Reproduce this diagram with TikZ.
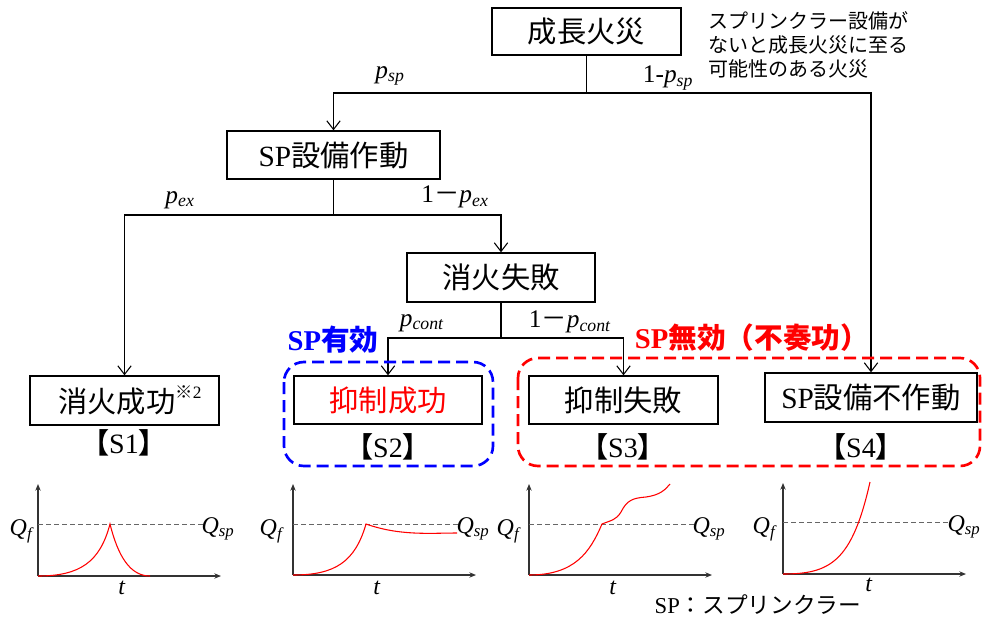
\documentclass[tikz,border=0pt]{standalone}
\usepackage{fontspec}
\setmainfont{Liberation Serif}
\newfontfamily\jp{Noto Sans CJK JP}
\usetikzlibrary{arrows.meta}
\begin{document}
\begin{tikzpicture}[x=0.75pt,y=-0.75pt,
  box/.style={draw, line width=1pt, inner sep=0pt, font=\fontsize{22}{26}\selectfont},
  conn/.style={line width=0.8pt},
  arr/.style={conn, -{Straight Barb[length=6.5pt,width=10pt]}},
  prob/.style={inner sep=0pt, font=\fontsize{19}{22}\selectfont},
  slabel/.style={inner sep=0pt, font=\fontsize{21}{24}\selectfont},
  group/.style={dashed, line width=2pt, dash pattern=on 9pt off 4.5pt, rounded corners=15pt},
  axis/.style={line width=0.8pt, draw=black!80, -{Stealth[length=5pt,width=4pt]}},
  qline/.style={dashed, draw=black!60, line width=0.6pt, dash pattern=on 3.5pt off 2.5pt},
  curve/.style={red, line width=0.8pt},
  glabel/.style={inner sep=0pt, font=\fontsize{18}{21}\selectfont}
]
\useasboundingbox (0,0) rectangle (984,621);

% boxes
\node[box, minimum width=141.75pt, minimum height=35.25pt] (top) at (586.5,31.5) {\jp 成長火災};
\node[box, minimum width=159.75pt, minimum height=36pt] (sp) at (333.5,155) {SP{\jp 設備作動}};
\node[box, minimum width=141pt, minimum height=36.75pt] (fail) at (501,277.5) {\jp 消火失敗};
\node[box, minimum width=141.75pt, minimum height=36.75pt] (s1) at (124.5,400.5) {\hspace*{8pt}{\jp 消火成功}\raisebox{0.5em}{\fontsize{13}{15}\selectfont{\jp ※}2}};
\node[box, minimum width=141pt, minimum height=36pt, text=red] (s2) at (388,400) {\jp 抑制成功};
\node[box, minimum width=141.75pt, minimum height=36pt] (s3) at (623.5,400) {\jp 抑制失敗};
\node[box, minimum width=159pt, minimum height=36.75pt] (s4) at (871,397.5) {SP{\jp 設備不作動}};

% note
\node[anchor=north west, align=left, inner sep=0pt, font=\fontsize{15}{18}\selectfont] (note) at (708,11) {\jp スプリンクラー設備が\\\jp ないと成長火災に至る\\\jp 可能性のある火災};

% connectors
\coordinate (j1) at (586.5,93);
\coordinate (j2) at (333.5,215);
\coordinate (j3) at (501,338);
\draw[conn] (top.south) -- (j1);
\draw[arr] (j1) -| (sp.north);
\draw[arr] (j1) -| (s4.north);
\draw[conn] (sp.south) -- (j2);
\draw[arr] (j2) -| (s1.north);
\draw[arr] (j2) -| (fail.north);
\draw[conn] (fail.south) -- (j3);
\draw[arr] (j3) -| (s2.north);
\draw[arr] (j3) -| (s3.north);

% probabilities
\node[prob] (psp) at (390,76) {\textit{p}\textsubscript{\textit{sp}}};
\node[prob] (qsp) at (668,78) {1-\textit{p}\textsubscript{\textit{sp}}};
\node[prob] (pex) at (180,200) {\textit{p}\textsubscript{\textit{ex}}};
\node[prob] (qex) at (455,197) {1{\jp －}\textit{p}\textsubscript{\textit{ex}}};
\node[prob] (pcont) at (422,323) {\textit{p}\textsubscript{\textit{cont}}};
\node[prob] (qcont) at (570,322) {1{\jp －}\textit{p}\textsubscript{\textit{cont}}};

% scenario labels
\node[slabel] (l1) at (124,443) {\textbf{\jp 【}S1\textbf{\jp 】}};
\node[slabel] (l2) at (388,447) {\textbf{\jp 【}S2\textbf{\jp 】}};
\node[slabel] (l3) at (623,447) {\textbf{\jp 【}S3\textbf{\jp 】}};
\node[slabel] (l4) at (861,447) {\textbf{\jp 【}S4\textbf{\jp 】}};

% groups
\draw[group, blue] (284,362) rectangle (493,466);
\draw[group, red] (518,358) rectangle (980,466);
\node[inner sep=0pt, text=blue, font=\fontsize{21.5}{24}\selectfont\bfseries] (eff) at (333,340) {SP{\jp 有効}};
\node[inner sep=0pt, text=red, font=\fontsize{21.5}{24}\selectfont\bfseries] (ineff) at (752,338) {SP{\jp 無効（不奏功）}};

% graph 1
\draw[axis] (38,576) -- (38,484);
\draw[axis] (38,576) -- (221,576);
\draw[qline] (38,524) -- (203,524);
\draw[curve] (38,576) .. controls (80,576) and (100,562) .. (110,524) .. controls (118,556) and (130,576) .. (150,576);
\node[glabel] (qf1) at (22,531) {\textit{Q}\textsubscript{\textit{f}}};
\node[glabel] (qs1) at (218,529) {\textit{Q}\textsubscript{\textit{sp}}};
\node[glabel] (t1) at (122,588) {\textit{t}};

% graph 2
\draw[axis] (293,575) -- (293,484);
\draw[axis] (293,575) -- (476,575);
\draw[qline] (293,524) -- (458,524);
\draw[curve] (293,575) .. controls (335,575) and (355,562) .. (366,524) .. controls (400,536) and (430,533) .. (457,533);
\node[glabel] (qf2) at (272,531) {\textit{Q}\textsubscript{\textit{f}}};
\node[glabel] (qs2) at (473,529) {\textit{Q}\textsubscript{\textit{sp}}};
\node[glabel] (t2) at (377,588) {\textit{t}};

% graph 3
\draw[axis] (529,575) -- (529,484);
\draw[axis] (529,575) -- (712,575);
\draw[qline] (529,524) -- (694,524);
\draw[curve] (529,575) .. controls (575,575) and (590,552) .. (602,524) .. controls (612,520) and (616,520) .. (621,512) .. controls (627,500) and (633,498) .. (646,497) .. controls (660,495) and (665,490) .. (670,484);
\node[glabel] (qf3) at (509,531) {\textit{Q}\textsubscript{\textit{f}}};
\node[glabel] (qs3) at (709,529) {\textit{Q}\textsubscript{\textit{sp}}};
\node[glabel] (t3) at (613,588) {\textit{t}};

% graph 4
\draw[axis] (783,574) -- (783,483);
\draw[axis] (783,574) -- (966,574);
\draw[qline] (783,522) -- (948,522);
\draw[curve] (783,574) .. controls (830,574) and (852,562) .. (870,482);
\node[glabel] (qf4) at (765,529) {\textit{Q}\textsubscript{\textit{f}}};
\node[glabel] (qs4) at (964,527) {\textit{Q}\textsubscript{\textit{sp}}};
\node[glabel] (t4) at (869,585) {\textit{t}};

% footnote
\node[inner sep=0pt, font=\fontsize{17}{20}\selectfont] (foot) at (758,605) {SP{\jp ：スプリンクラー}};
\end{tikzpicture}
\end{document}
